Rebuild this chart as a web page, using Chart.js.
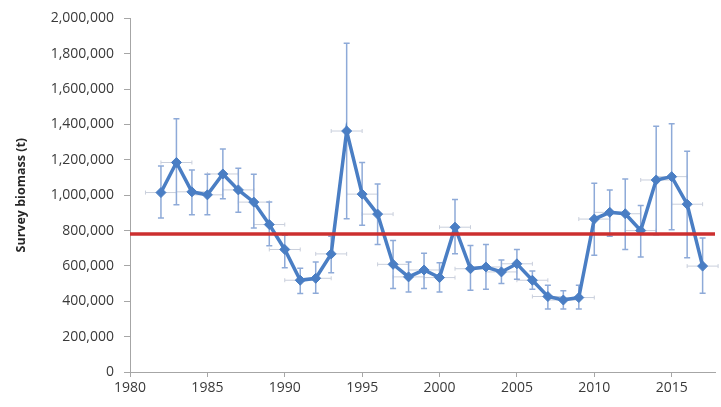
<!DOCTYPE html>
<html>
<head>
<meta charset="utf-8">
<script src="https://cdn.jsdelivr.net/npm/chart.js@4.4.1/dist/chart.umd.min.js"></script>
<style>
  html, body { margin: 0; padding: 0; background: #fff; }
  #wrap { width: 721px; height: 407px; }
</style>
</head>
<body>
<div id="wrap"><canvas id="grafico"></canvas></div>
<script>
// survey years and biomass (t)
const anos = [1982, 1983, 1984, 1985, 1986, 1987, 1988, 1989, 1990, 1991, 1992, 1993, 1994, 1995, 1996, 1997, 1998, 1999, 2000,
  2001, 2002, 2003, 2004, 2005, 2006, 2007, 2008, 2009, 2010, 2011, 2012, 2013, 2014, 2015, 2016, 2017];
const biomassa = [1015000, 1185000, 1019000, 1002000, 1120000, 1030000, 961000, 834000, 693000, 519000, 530000, 668000, 1363000, 1006000, 893000, 609000, 538000, 577000, 534000,
  819000, 584000, 594000, 566000, 612000, 519000, 427000, 407000, 421000, 865000, 903000, 895000, 800000, 1086000, 1105000, 949000, 599000];
// error bar ends
const limiteInf = [871000, 946000, 890000, 890000, 980000, 903000, 815000, 714000, 590000, 444000, 446000, 562000, 867000, 830000, 721000, 472000, 453000, 472000, 453000,
  669000, 463000, 468000, 500000, 525000, 468000, 356000, 356000, 356000, 661000, 768000, 693000, 650000, 777000, 805000, 646000, 446000];
const limiteSup = [1165000, 1433000, 1143000, 1118000, 1261000, 1152000, 1118000, 961000, 774000, 587000, 622000, 768000, 1860000, 1185000, 1064000, 744000, 622000, 671000, 618000,
  975000, 716000, 721000, 633000, 693000, 571000, 491000, 459000, 491000, 1067000, 1030000, 1092000, 942000, 1390000, 1404000, 1249000, 758000];
const erroAno = 1; // horizontal error, years
const referencia = 780000;
const eixoX = [1980, 2017.8];
const rotulosX = [1980, 1985, 1990, 1995, 2000, 2005, 2010, 2015];

const pontos = anos.map((a, i) => ({ x: a, y: biomassa[i] }));

const barrasErro = {
  id: 'barrasErro',
  beforeDatasetsDraw(chart) {
    const ctx = chart.ctx;
    const sx = chart.scales.x, sy = chart.scales.y;
    ctx.save();
    // horizontal
    ctx.strokeStyle = '#c9cfdc';
    ctx.lineWidth = 1;
    anos.forEach((a, i) => {
      const y = sy.getPixelForValue(biomassa[i]);
      const x1 = sx.getPixelForValue(a - erroAno), x2 = sx.getPixelForValue(a + erroAno);
      ctx.beginPath();
      ctx.moveTo(x1, y); ctx.lineTo(x2, y);
      ctx.moveTo(x1, y - 2); ctx.lineTo(x1, y + 2);
      ctx.moveTo(x2, y - 2); ctx.lineTo(x2, y + 2);
      ctx.stroke();
    });
    // vertical
    ctx.strokeStyle = '#8eaad8';
    ctx.lineWidth = 1.5;
    anos.forEach((a, i) => {
      const x = sx.getPixelForValue(a);
      const y1 = sy.getPixelForValue(limiteInf[i]), y2 = sy.getPixelForValue(limiteSup[i]);
      ctx.beginPath();
      ctx.moveTo(x, y1); ctx.lineTo(x, y2);
      ctx.moveTo(x - 3, y1); ctx.lineTo(x + 3, y1);
      ctx.moveTo(x - 3, y2); ctx.lineTo(x + 3, y2);
      ctx.stroke();
    });
    ctx.restore();
  }
};

const fonte = { family: "'Open Sans', sans-serif", size: 14 };

new Chart(document.getElementById('grafico'), {
  type: 'scatter',
  data: {
    datasets: [
      {
        label: 'Referência',
        data: eixoX.map(x => ({ x: x, y: referencia })),
        showLine: true,
        borderColor: '#cc2f2f',
        borderWidth: 3.5,
        pointRadius: 0
      },
      {
        label: 'Biomassa',
        data: pontos,
        showLine: true,
        borderColor: '#4a7ec4',
        backgroundColor: '#4a7ec4',
        borderWidth: 3.5,
        pointStyle: 'rectRot',
        pointRadius: 5,
        pointBorderWidth: 1
      }
    ]
  },
  options: {
    responsive: true,
    maintainAspectRatio: false,
    animation: false,
    layout: { padding: { top: 16, right: 0, bottom: 0, left: 0 } },
    plugins: { legend: { display: false }, tooltip: { enabled: false } },
    scales: {
      x: {
        type: 'linear',
        min: eixoX[0],
        max: eixoX[1],
        afterBuildTicks(s) { s.ticks = rotulosX.map(v => ({ value: v })); },
        afterFit(s) { s.height = 35; },
        border: { display: true, color: '#a6a6a6', width: 1 },
        grid: { display: true, drawOnChartArea: false, drawTicks: true, tickLength: 5, color: '#a6a6a6' },
        ticks: { color: '#3a3a3a', font: fonte, padding: 3, maxRotation: 0, callback: v => String(v) }
      },
      y: {
        min: 0,
        max: 2000000,
        afterFit(s) { s.width = 130; },
        border: { display: true, color: '#a6a6a6', width: 1 },
        grid: { display: true, drawOnChartArea: false, drawTicks: true, tickLength: 6, color: '#a6a6a6' },
        ticks: { stepSize: 200000, color: '#3a3a3a', font: fonte, padding: 10,
          callback: v => v.toLocaleString('en-US') },
        title: { display: true, text: 'Survey biomass (t)', color: '#262626',
          font: { family: "'Open Sans', sans-serif", size: 12.5, weight: 'bold' }, padding: { top: 14, bottom: 4 } }
      }
    }
  },
  plugins: [barrasErro]
});
</script>
</body>
</html>
